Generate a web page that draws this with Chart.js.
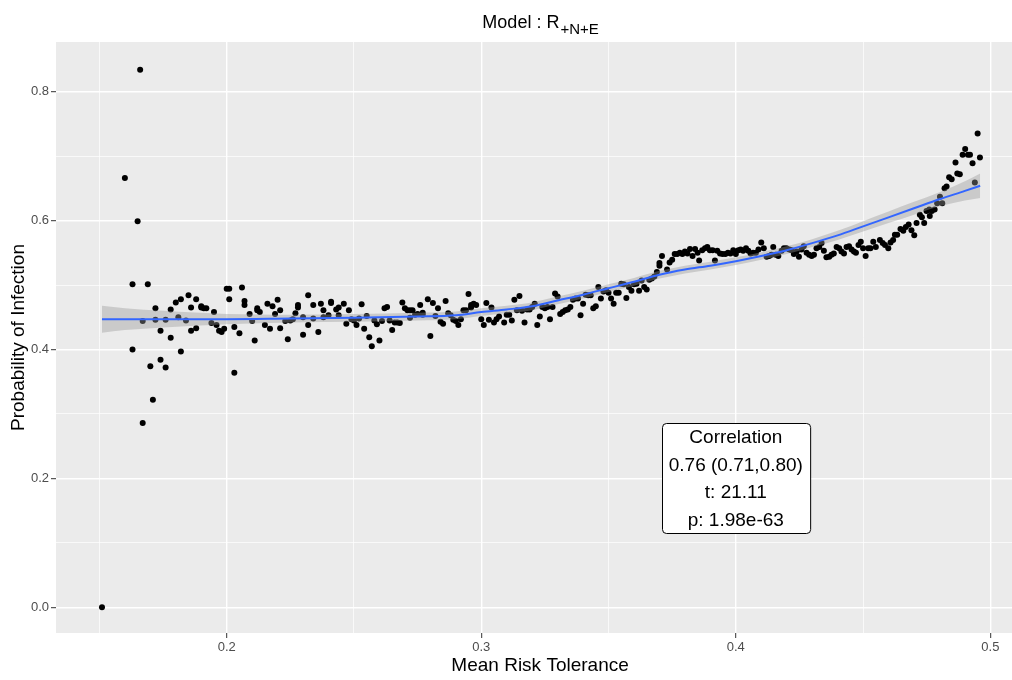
<!DOCTYPE html>
<html><head><meta charset="utf-8">
<script src="https://cdn.jsdelivr.net/npm/chart.js@4.4.1/dist/chart.umd.min.js"></script>
<style>html,body{margin:0;padding:0;background:#fff;}#wrap{width:1012px;height:680px;}</style>
</head><body><div id="wrap"><canvas id="c" width="1012" height="680"></canvas></div>
<script>
// scatter points: Mean Risk Tolerance (x) vs Probability of Infection (y)
const ptX = [
0.151,0.160,0.163,0.163,0.165,0.166,0.167,0.167,0.169,0.170,0.171,0.172,0.172,0.174,0.174,0.176,0.176,0.178,0.178,0.180,
0.181,0.182,0.182,0.184,0.185,0.186,0.186,0.188,0.188,0.190,0.190,0.191,0.192,0.194,0.195,0.196,0.197,0.198,0.199,0.200,
0.201,0.201,0.203,0.203,0.205,0.206,0.207,0.207,0.209,0.210,0.211,0.212,0.212,0.213,0.215,0.216,0.217,0.218,0.219,0.220,
0.221,0.221,0.223,0.224,0.225,0.226,0.227,0.228,0.228,
0.230,0.230,0.232,0.232,0.234,0.234,0.236,0.237,0.238,0.238,0.240,0.241,0.241,0.243,0.244,0.244,0.246,0.247,0.248,0.249,
0.250,0.251,0.252,0.253,0.254,0.255,0.256,0.257,0.258,0.259,0.260,0.261,0.262,0.263,0.264,0.265,0.266,0.267,0.268,0.269,
0.270,0.271,0.272,0.272,0.273,0.274,0.275,0.276,0.277,0.277,0.279,0.280,0.281,0.282,0.283,0.284,0.285,0.286,0.287,0.288,
0.289,0.290,0.291,0.292,0.293,0.294,0.295,0.296,0.296,0.297,0.298,0.300,0.301,0.302,0.303,0.304,0.305,0.306,0.307,
0.309,0.310,0.311,0.312,0.313,0.314,0.315,0.316,0.317,0.318,0.319,0.320,0.321,0.322,0.323,0.324,0.325,0.326,0.327,0.328,
0.329,0.330,0.331,0.332,0.333,0.334,0.335,0.336,0.337,0.338,0.339,0.340,0.341,0.342,0.343,0.344,0.345,0.346,0.347,0.348,
0.349,0.350,0.351,0.352,0.353,0.354,0.355,0.356,0.357,0.358,0.359,0.360,0.361,0.362,0.363,0.364,0.365,0.366,0.367,0.368,
0.369,0.370,0.370,0.371,0.373,0.374,0.375,0.376,0.377,0.378,0.379,0.380,0.381,0.382,0.383,0.384,0.385,
0.3856,0.3868,0.3879,0.3888,0.3898,0.3909,0.3918,0.3927,0.3938,0.3948,0.3959,0.3969,0.3979,0.3990,0.4000,0.4010,0.4019,0.4029,0.4040,0.4049,
0.4058,0.4068,0.4079,0.4089,0.4100,0.4110,0.4121,0.4131,0.4140,0.4147,0.4157,0.4167,0.4180,0.4189,0.4199,0.4210,0.4219,0.4228,0.4239,0.4248,
0.4258,0.4267,0.4278,0.4288,0.4298,0.4307,0.4317,0.4328,0.4337,0.4346,0.4356,0.4367,0.4376,0.4385,0.4396,0.4406,0.4415,0.4425,0.4435,0.4445,
0.4455,0.4464,0.4472,0.4482,0.4491,0.4500,0.4510,0.4520,0.4529,0.4540,0.4550,
0.4566,0.4577,0.4586,0.4599,0.4608,0.4618,0.4625,0.4634,0.4647,0.4658,0.4668,0.4679,0.4690,0.4701,0.4710,0.4723,0.4731,0.4740,0.4749,0.4760,
0.4762,0.4770,0.4781,0.4791,0.4802,0.4811,0.4820,0.4828,0.4838,0.4848,0.4863,0.4870,0.4880,0.4891,0.4901,0.4912,0.4920,0.4930,0.4939,0.4950,
0.4959
];
const ptY = [
0.000,0.666,0.400,0.501,0.599,0.834,0.444,0.286,0.501,0.374,0.322,0.464,0.446,0.429,0.384,0.372,0.446,0.462,0.418,0.473,
0.450,0.478,0.397,0.445,0.484,0.429,0.465,0.433,0.478,0.467,0.465,0.464,0.464,0.441,0.458,0.438,0.429,0.427,0.432,0.494,
0.494,0.478,0.364,0.435,0.425,0.496,0.475,0.469,0.455,0.444,0.414,0.464,0.461,0.458,0.438,0.471,0.432,0.467,0.455,0.477,
0.461,0.433,0.444,0.416,0.445,0.447,0.456,0.469,0.465,
0.423,0.450,0.484,0.438,0.448,0.469,0.427,0.471,0.450,0.461,0.453,0.472,0.474,0.462,0.465,0.453,0.471,0.440,0.461,0.447,
0.445,0.438,0.448,0.470,0.432,0.452,0.419,0.405,0.445,0.439,0.414,0.444,0.464,0.466,0.445,0.430,0.442,0.442,0.441,0.473,
0.464,0.461,0.461,0.449,0.461,0.454,0.455,0.469,0.454,0.457,0.478,0.421,0.472,0.452,0.464,0.443,0.440,0.475,0.456,0.453,
0.446,0.444,0.438,0.447,0.461,0.461,0.486,0.465,0.469,0.471,0.469,0.447,0.438,0.472,0.446,0.465,0.442,0.447,0.451,
0.442,0.454,0.454,0.445,0.477,0.461,0.483,0.460,0.442,0.462,0.462,0.466,0.471,0.438,0.451,0.466,0.464,0.466,0.447,0.466,
0.487,0.482,0.455,0.458,0.461,0.462,0.466,0.477,0.479,0.479,0.453,0.471,0.485,0.484,0.484,0.464,0.467,0.497,0.479,0.490,
0.492,0.488,0.479,0.471,0.488,0.488,0.502,0.501,0.480,0.497,0.491,0.501,0.502,0.491,0.507,0.497,0.493,0.508,0.510,0.513,
0.520,0.534,0.530,0.545,0.524,0.535,0.539,0.548,0.548,0.550,0.548,0.552,0.549,0.556,0.545,0.556,0.550,
0.538,0.554,0.557,0.559,0.554,0.554,0.538,0.553,0.549,0.548,0.548,0.550,0.549,0.554,0.548,0.554,0.555,0.553,0.557,0.553,
0.549,0.550,0.550,0.555,0.566,0.557,0.544,0.545,0.547,0.559,0.547,0.545,0.553,0.557,0.557,0.555,0.554,0.548,0.552,0.544,
0.555,0.560,0.550,0.547,0.545,0.547,0.557,0.559,0.565,0.553,0.543,0.544,0.547,0.549,0.559,0.557,0.552,0.549,0.559,0.560,
0.555,0.552,0.550,0.562,0.567,0.557,0.545,0.557,0.557,0.567,0.559,
0.570,0.565,0.562,0.557,0.566,0.570,0.578,0.578,0.587,0.584,0.590,0.594,0.585,0.577,0.596,0.609,0.605,0.596,0.615,0.617,
0.607,0.615,0.617,0.627,0.637,0.627,0.650,0.653,0.667,0.664,0.690,0.673,0.672,0.702,0.711,0.702,0.702,0.689,0.659,0.735,
0.698
];
// smoothed fit and its confidence band
const fitX  = [0.151,0.160,0.175,0.200,0.225,0.250,0.275,0.290,0.300,0.310,0.320,0.330,0.340,0.350,0.360,0.370,0.380,0.390,0.400,0.410,0.420,0.430,0.440,0.450,0.460,0.470,0.480,0.490,0.496];
const fitY  = [0.447,0.447,0.447,0.447,0.448,0.449,0.451,0.453,0.458,0.462,0.467,0.476,0.485,0.495,0.505,0.516,0.524,0.530,0.537,0.545,0.554,0.565,0.577,0.591,0.605,0.619,0.633,0.646,0.654];
const fitHi = [0.468,0.464,0.460,0.455,0.454,0.455,0.457,0.459,0.464,0.468,0.473,0.482,0.491,0.501,0.511,0.522,0.530,0.536,0.543,0.551,0.560,0.571,0.584,0.599,0.614,0.629,0.644,0.661,0.673];
const fitLo = [0.426,0.430,0.434,0.439,0.442,0.443,0.445,0.447,0.452,0.456,0.461,0.470,0.479,0.489,0.499,0.510,0.518,0.524,0.531,0.539,0.548,0.559,0.570,0.583,0.596,0.609,0.622,0.631,0.635];
// ticks
const xTicks = [0.15,0.2,0.25,0.3,0.35,0.4,0.45,0.5];
const xMajor = [0.2,0.3,0.4,0.5];
const yTicks = [0,0.1,0.2,0.3,0.4,0.5,0.6,0.7,0.8];
const yMajor = [0,0.2,0.4,0.6,0.8];
// texts
const titleMain = 'Model : R';
const titleSub = '+N+E';
const xTitle = 'Mean Risk Tolerance';
const yTitle = 'Probability of Infection';
const corrLines = ['Correlation','0.76 (0.71,0.80)','t: 21.11','p: 1.98e-63'];
const corrAt = {x:0.4, y:0.2};
const titleCenterX = 0.3231;   // horizontal centre of title texts, in x-axis units

const FONT = '"Liberation Sans", Arial, sans-serif';
const isMaj = (list, v) => list.some(m => Math.abs(m - v) < 1e-9);

const panelBg = {
  id:'panelBg',
  beforeDraw(chart){
    const {ctx, chartArea:a} = chart;
    ctx.save(); ctx.fillStyle = '#EBEBEB';
    ctx.fillRect(a.left, a.top, a.right - a.left, a.bottom - a.top);
    ctx.restore();
  }
};
const extras = {
  id:'extras',
  afterDraw(chart){
    const ctx = chart.ctx;
    const cx = chart.scales.x.getPixelForValue(titleCenterX);
    ctx.save();
    ctx.fillStyle = '#000'; ctx.textBaseline = 'alphabetic'; ctx.textAlign = 'left';
    ctx.font = '18px ' + FONT; const w1 = ctx.measureText(titleMain).width;
    ctx.font = '15px ' + FONT; const w2 = ctx.measureText(titleSub).width;
    const sx = cx - (w1 + w2) / 2;
    ctx.font = '18px ' + FONT; ctx.fillText(titleMain, sx, 28);
    ctx.font = '15px ' + FONT; ctx.fillText(titleSub, sx + w1 + 1, 34);
    // x-axis title
    ctx.font = '19px ' + FONT; ctx.textAlign = 'center'; ctx.textBaseline = 'middle';
    ctx.fillText(xTitle, cx, 666);
    ctx.restore();
  },
  afterDatasetsDraw(chart){
    const ctx = chart.ctx;
    const px = chart.scales.x.getPixelForValue(corrAt.x);
    const py = chart.scales.y.getPixelForValue(corrAt.y);
    ctx.save();
    ctx.font = '19px ' + FONT;
    const lh = 27.5, pad = 7;
    const w = Math.max(...corrLines.map(t => ctx.measureText(t).width)) + 2 * pad;
    const h = lh * corrLines.length;
    const l = Math.round(px - w / 2) + 0.5, t = Math.round(py - h / 2) + 0.5;
    ctx.beginPath(); ctx.roundRect(l, t, w, h, 4);
    ctx.fillStyle = '#fff'; ctx.fill();
    ctx.strokeStyle = '#000'; ctx.lineWidth = 1; ctx.stroke();
    ctx.fillStyle = '#000'; ctx.textAlign = 'center'; ctx.textBaseline = 'middle';
    corrLines.forEach((s, i) => ctx.fillText(s, px, t + lh * (i + 0.5) + 1));
    ctx.restore();
  }
};

new Chart(document.getElementById('c'), {
  type:'scatter',
  data:{ datasets:[
    { data: fitX.map((x,i)=>({x, y: fitY[i]})), showLine:true, borderColor:'#3366FF', borderWidth:2,
      pointRadius:0, fill:false, cubicInterpolationMode:'monotone', order:0 },
    { data: fitLo.map((v,i)=>({x: fitX[i], y: v})), showLine:true, borderWidth:0, borderColor:'rgba(0,0,0,0)',
      pointRadius:0, fill:false, cubicInterpolationMode:'monotone', order:2 },
    { data: fitHi.map((v,i)=>({x: fitX[i], y: v})), showLine:true, borderWidth:0, borderColor:'rgba(0,0,0,0)',
      pointRadius:0, fill:1, backgroundColor:'rgba(153,153,153,0.4)', cubicInterpolationMode:'monotone', order:1 },
    { data: ptX.map((x,i)=>({x, y: ptY[i]})), pointRadius:3, pointBackgroundColor:'#000', pointBorderWidth:0,
      backgroundColor:'#000', borderColor:'#000', order:3 }
  ]},
  plugins:[panelBg, extras],
  options:{
    responsive:false, animation:false, events:[],
    layout:{ autoPadding:false, padding:{ top:42, right:0, bottom:0, left:0 } },
    plugins:{ legend:{display:false}, tooltip:{enabled:false}, title:{display:false} },
    scales:{
      x:{
        type:'linear', min:0.13294, max:0.5085,
        afterBuildTicks: s => { s.ticks = xTicks.map(v => ({value:v})); },
        afterFit: s => { s.height = 47; },
        grid:{ color:'#fff', lineWidth: c => isMaj(xMajor, c.tick.value) ? 1.4 : 0.7,
               tickColor: c => isMaj(xMajor, c.tick.value) ? '#333' : 'rgba(0,0,0,0)', tickLength:5, tickWidth:1 },
        border:{ display:false },
        ticks:{ autoSkip:false, maxRotation:0, padding:2, color:'#4D4D4D', font:{family:FONT, size:13},
                callback: v => isMaj(xMajor, v) ? v.toFixed(1) : '' },
        title:{ display:false }
      },
      y:{
        type:'linear', min:-0.0399, max:0.877,
        afterBuildTicks: s => { s.ticks = yTicks.map(v => ({value:v})); },
        afterFit: s => { s.width = 56; },
        grid:{ color:'#fff', lineWidth: c => isMaj(yMajor, c.tick.value) ? 1.4 : 0.7,
               tickColor: c => isMaj(yMajor, c.tick.value) ? '#333' : 'rgba(0,0,0,0)', tickLength:5, tickWidth:1 },
        border:{ display:false },
        ticks:{ padding:2, color:'#4D4D4D', font:{family:FONT, size:13},
                callback: v => isMaj(yMajor, v) ? v.toFixed(1) : '' },
        title:{ display:true, text:yTitle, color:'#000', font:{family:FONT, size:19}, padding:{top:7, bottom:0} }
      }
    }
  }
});
</script></body></html>
